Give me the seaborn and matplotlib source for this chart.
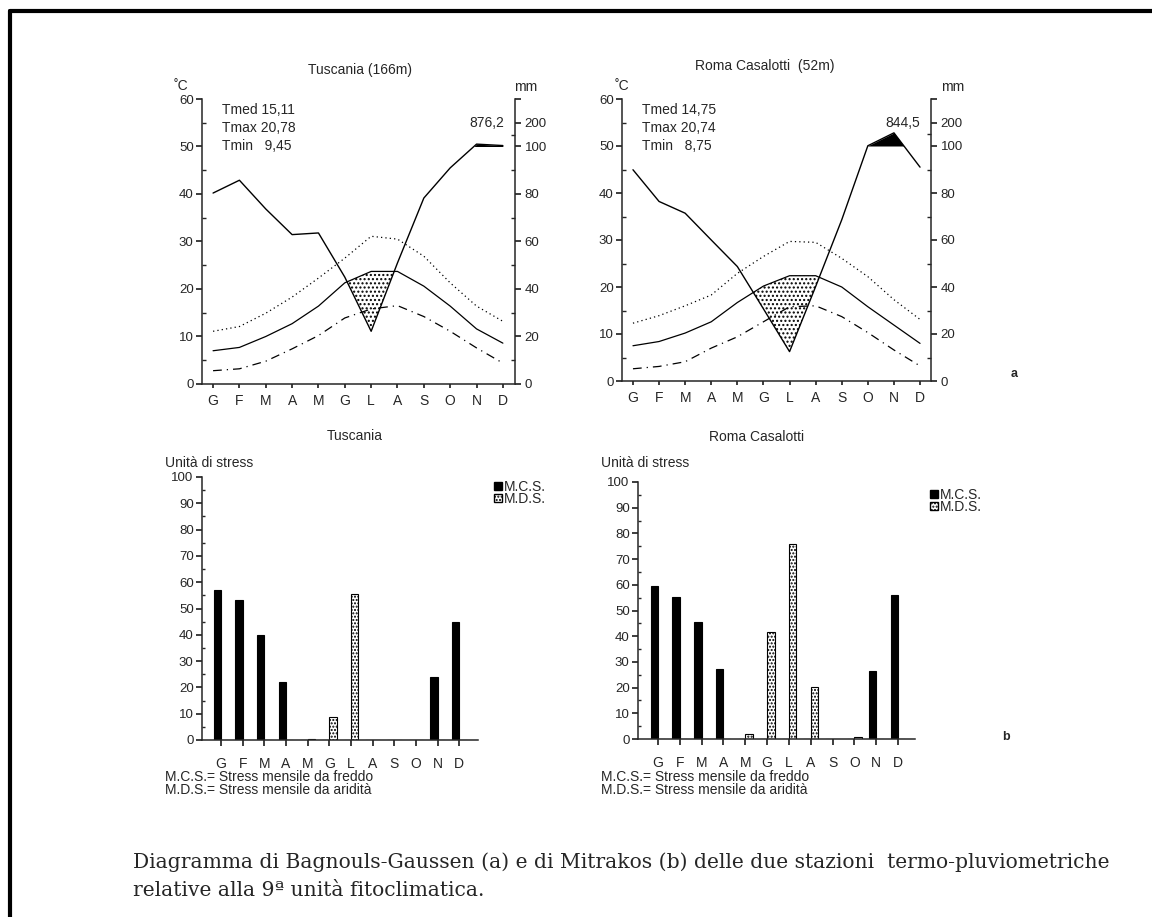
import numpy as np
import pandas as pd
import matplotlib
matplotlib.use('Agg')
import matplotlib.pyplot as plt
import seaborn as sns
from matplotlib.patches import Patch
from matplotlib.lines import Line2D
from matplotlib.ticker import MultipleLocator

# ------------------------
# Dati
# ------------------------
mesi = ['G', 'F', 'M', 'A', 'M', 'G', 'L', 'A', 'S', 'O', 'N', 'D']

# Tuscania (166m) - temperature in gradi C, piogge in mm
tus_tmed = [7.0, 7.7, 10.0, 12.7, 16.4, 21.3, 23.7, 23.7, 20.6, 16.4, 11.6, 8.6]
tus_tmax = [11.1, 12.1, 14.9, 18.3, 22.3, 26.5, 31.1, 30.5, 26.9, 21.3, 16.4, 13.2]
tus_tmin = [2.8, 3.2, 4.8, 7.4, 10.2, 13.9, 15.8, 16.5, 14.2, 11.1, 7.6, 4.4]
tus_pioggia = [80.4, 85.8, 73.7, 62.9, 63.6, 45.0, 22.2, 51.0, 78.3, 91.0, 110.0, 104.0]
tus_stat = ['Tmed 15,11', 'Tmax 20,78', 'Tmin   9,45']
tus_totale = '876,2'

# Roma Casalotti (52m)
rom_tmed = [7.5, 8.4, 10.2, 12.6, 16.7, 20.2, 22.4, 22.4, 20.0, 15.8, 11.9, 8.0]
rom_tmax = [12.3, 13.9, 16.0, 18.3, 22.9, 26.5, 29.7, 29.5, 26.1, 22.2, 17.3, 13.1]
rom_tmin = [2.6, 3.1, 4.1, 7.0, 9.4, 12.6, 15.8, 16.0, 13.7, 10.3, 6.6, 3.2]
rom_pioggia = [89.9, 76.4, 71.4, 60.0, 48.7, 30.7, 12.5, 40.2, 68.6, 101.0, 156.0, 91.0]
rom_stat = ['Tmed 14,75', 'Tmax 20,74', 'Tmin   8,75']
rom_totale = '844,5'

# Mitrakos - unita di stress
tus_mcs = [57, 53.3, 40, 22, 0, 0, 0, 0, 0, 0, 24, 45]
tus_mds = [0, 0, 0, 0, 0.3, 8.6, 55.5, 0, 0, 0, 0, 0]
rom_mcs = [59.5, 55.3, 45.5, 27.2, 0, 0, 0, 0, 0, 0, 26.6, 56]
rom_mds = [0, 0, 0, 0, 1.8, 41.5, 75.8, 20.2, 0, 0.6, 0, 0]

W, H = 1152, 917


def fx(px):
    return px / W


def fy(py):
    return 1 - py / H


# scala delle piogge: 2 mm = 1 grado fino a 100 mm, poi 1/10
def mm_a_gradi(mm):
    mm = np.asarray(mm, dtype=float)
    return np.where(mm <= 100, mm / 2, 50 + (mm - 100) / 20)


def gradi_a_mm(t):
    t = np.asarray(t, dtype=float)
    return np.where(t <= 50, t * 2, 100 + (t - 50) * 20)


sns.set_theme(style='ticks')
plt.rcParams['font.family'] = ['Liberation Sans', 'DejaVu Sans']
plt.rcParams['axes.linewidth'] = 1.1
plt.rcParams['hatch.linewidth'] = 1.0

fig = plt.figure(figsize=(W / 100, H / 100), dpi=100)
fig.patch.set_facecolor('white')

# cornice
fig.add_artist(Line2D([fx(10), 1], [fy(11), fy(11)], color='black', lw=3))
fig.add_artist(Line2D([fx(10), fx(10)], [fy(11), 0], color='black', lw=3))

FS = 10


# ------------------------
# Diagrammi di Bagnouls-Gaussen
# ------------------------
def gaussen(rect, xlim, tmed, tmax, tmin, pioggia, stat, totale):
    ax = fig.add_axes(rect)
    x = np.arange(12)
    p = mm_a_gradi(pioggia)
    tmed = np.array(tmed)

    ax.fill_between(x, p, tmed, where=p < tmed, interpolate=True,
                    facecolor='white', edgecolor='black', hatch='....', linewidth=0)
    ax.fill_between(x, 50, p, where=p > 50, interpolate=True,
                    facecolor='black', linewidth=0)

    sns.lineplot(x=x, y=tmax, ax=ax, color='black', linewidth=0.9, linestyle=(0, (1, 2.5)))
    sns.lineplot(x=x, y=tmed, ax=ax, color='black', linewidth=0.9)
    sns.lineplot(x=x, y=tmin, ax=ax, color='black', linewidth=0.9, linestyle=(0, (7, 4, 1, 4)))
    sns.lineplot(x=x, y=p, ax=ax, color='black', linewidth=1.0)

    ax.set_xlim(*xlim)
    ax.set_ylim(0, 60)
    ax.set_xticks(x, mesi, fontsize=10)
    ax.set_yticks(range(0, 61, 10))
    ax.yaxis.set_minor_locator(MultipleLocator(5))
    ax.tick_params(axis='y', which='major', direction='out', length=4, labelsize=9.5, pad=2)
    ax.tick_params(axis='y', which='minor', direction='in', length=3)
    ax.tick_params(axis='x', direction='out', length=3, pad=4)
    ax.set_xlabel('')
    ax.set_ylabel('')
    ax.spines['top'].set_visible(False)
    ax.spines['right'].set_visible(False)

    ax2 = ax.secondary_yaxis('right', functions=(gradi_a_mm, mm_a_gradi))
    ax2.set_yticks([0, 20, 40, 60, 80, 100, 200, 300], ['0', '20', '40', '60', '80', '100', '200', ''])
    ax2.yaxis.set_minor_locator(plt.FixedLocator([10, 30, 50, 70, 90, 150]))
    ax2.tick_params(axis='y', which='major', direction='out', length=4, labelsize=9.5, pad=3)
    ax2.tick_params(axis='y', which='minor', direction='in', length=3)

    for i, s in enumerate(stat):
        ax.text(0.065, 0.96 - i * 0.063, s, transform=ax.transAxes, fontsize=FS, va='center')
    ax.text(0.91, 0.915, totale, transform=ax.transAxes, fontsize=FS, ha='center', va='center')
    return ax


gaussen([fx(202), fy(384), fx(515) - fx(202), fy(99) - fy(384)], (-0.42, 11.46),
        tus_tmed, tus_tmax, tus_tmin, tus_pioggia, tus_stat, tus_totale)
gaussen([fx(622), fy(381), fx(931) - fx(622), fy(99) - fy(381)], (-0.42, 11.42),
        rom_tmed, rom_tmax, rom_tmin, rom_pioggia, rom_stat, rom_totale)

fig.text(fx(360), fy(70), 'Tuscania (166m)', ha='center', va='center', fontsize=FS)
fig.text(fx(765), fy(66), 'Roma Casalotti  (52m)', ha='center', va='center', fontsize=FS)
for xc, xm in [(181, 526), (622, 953)]:
    fig.text(fx(xc), fy(86), '˚C', ha='center', va='center', fontsize=FS)
    fig.text(fx(xm), fy(87), 'mm', ha='center', va='center', fontsize=FS)
fig.text(fx(1014), fy(374), 'a', ha='center', va='center', fontsize=9, fontweight='bold')


# ------------------------
# Diagrammi di Mitrakos
# ------------------------
def mitrakos(rect, xlim, mcs, mds, legenda_xy):
    ax = fig.add_axes(rect)
    df = pd.DataFrame({
        'mese': list(range(12)) * 2,
        'serie': ['M.C.S.'] * 12 + ['M.D.S.'] * 12,
        'valore': list(mcs) + list(mds),
    })
    sns.barplot(data=df, x='mese', y='valore', hue='serie',
                palette={'M.C.S.': 'black', 'M.D.S.': 'white'},
                edgecolor='black', linewidth=0.8, width=0.68, ax=ax, legend=False)
    for barra in ax.containers[1]:
        barra.set_hatch('.....')

    ax.set_xlim(*xlim)
    ax.set_ylim(0, 100)
    ax.set_xticks(range(12), mesi, fontsize=10)
    ax.set_yticks(range(0, 101, 10))
    ax.yaxis.set_minor_locator(MultipleLocator(5))
    ax.tick_params(axis='y', which='major', direction='out', length=4, labelsize=9.5, pad=2)
    ax.tick_params(axis='y', which='minor', direction='in', length=2.5)
    ax.tick_params(axis='x', direction='out', length=4, pad=8)
    ax.set_xlabel('')
    ax.set_ylabel('')
    ax.spines['top'].set_visible(False)
    ax.spines['right'].set_visible(False)

    maniglie = [Patch(facecolor='black', edgecolor='black'),
                Patch(facecolor='white', edgecolor='black', hatch='.....')]
    fig.legend(maniglie, ['M.C.S.', 'M.D.S.'], loc='upper left',
               bbox_to_anchor=(fx(legenda_xy[0]), fy(legenda_xy[1])),
               frameon=False, fontsize=FS, handlelength=0.55, handleheight=0.55,
               handletextpad=0.15, labelspacing=-0.15, borderpad=0, borderaxespad=0)
    return ax


mitrakos([fx(202), fy(740), fx(478) - fx(202), fy(477) - fy(740)], (-0.875, 11.86),
         tus_mcs, tus_mds, (494, 480))
mitrakos([fx(638), fy(739), fx(915) - fx(638), fy(482) - fy(739)], (-0.92, 11.78),
         rom_mcs, rom_mds, (930, 488))

fig.text(fx(355), fy(436), 'Tuscania', ha='center', va='center', fontsize=FS)
fig.text(fx(757), fy(437), 'Roma Casalotti', ha='center', va='center', fontsize=FS)
for xs in (165, 601):
    fig.text(fx(xs), fy(463), 'Unità di stress', ha='left', va='center', fontsize=FS)
    fig.text(fx(xs), fy(777), 'M.C.S.= Stress mensile da freddo', ha='left', va='center', fontsize=FS)
    fig.text(fx(xs), fy(790), 'M.D.S.= Stress mensile da aridità', ha='left', va='center', fontsize=FS)
fig.text(fx(1006), fy(737), 'b', ha='center', va='center', fontsize=9, fontweight='bold')

# didascalia
didascalia = ['Diagramma di Bagnouls-Gaussen (a) e di Mitrakos (b) delle due stazioni  termo-pluviometriche',
              'relative alla 9ª unità fitoclimatica.']
for i, riga in enumerate(didascalia):
    fig.text(fx(133), fy(862 + i * 28), riga, ha='left', va='center',
             fontsize=14.6, family=['DejaVu Serif'])

fig.savefig('out.png', dpi=100)
